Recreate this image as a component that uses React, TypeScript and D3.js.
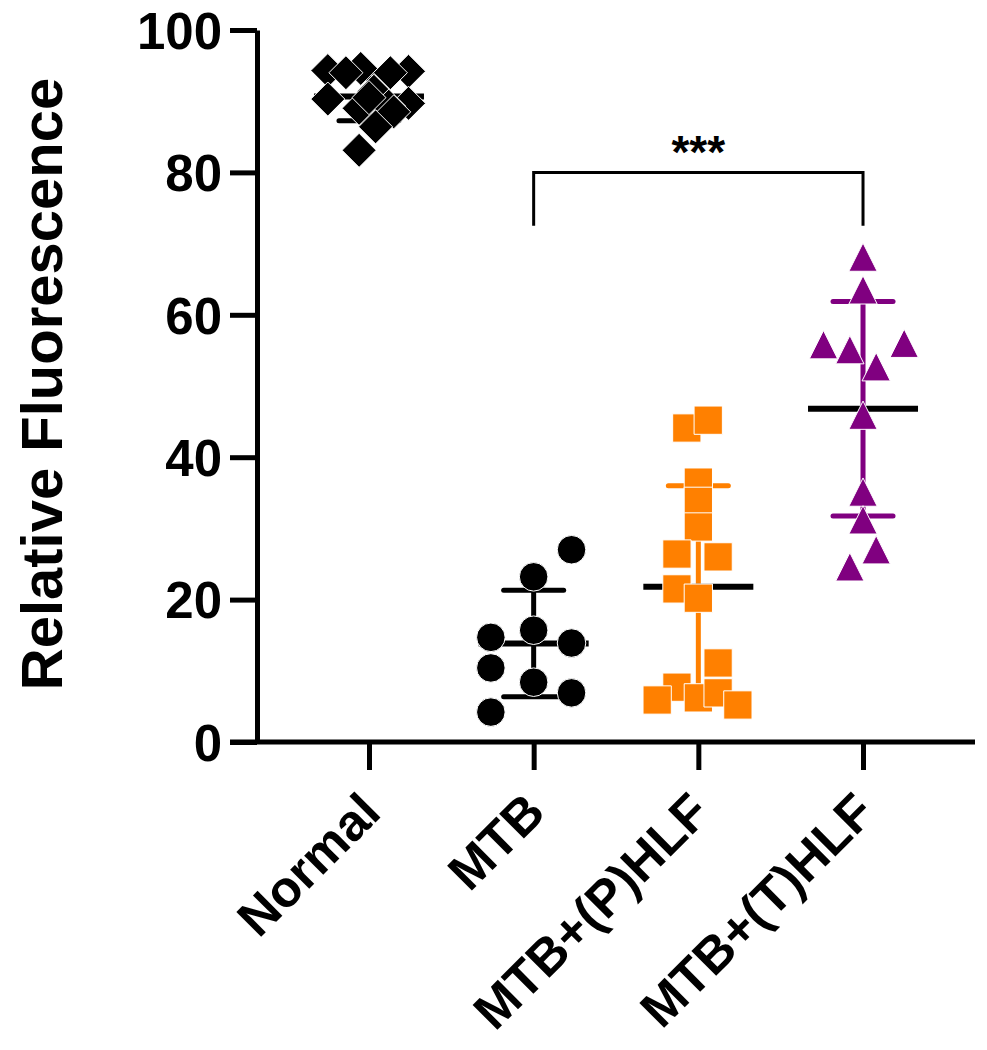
import React, { useEffect, useRef } from "react";
import * as d3 from "d3";

const categories = ["Normal", "MTB", "MTB+(P)HLF", "MTB+(T)HLF"];
const yTicks = [0, 20, 40, 60, 80, 100];

const normalValues = [94.3, 94.6, 94.2, 94.0, 94.0, 90.3, 91.4, 89.7, 89.0, 89.3, 90.5, 88.5, 86.4, 83.1];
const normalLanes = [-0.25, -0.05, 0.24, -0.14, 0.13, -0.25, 0.03, 0.24, -0.06, 0.12, 0.0, 0.15, 0.04, -0.06];

const mtbValues = [27.0, 23.2, 14.7, 15.7, 13.9, 10.4, 8.4, 6.9, 4.2];
const mtbLanes = [0.23, 0, -0.26, 0, 0.23, -0.26, 0, 0.23, -0.26];

const pValues = [44.1, 45.2, 36.5, 33.8, 30.2, 26.4, 26.0, 21.5, 20.2, 11.1, 7.7, 5.9, 6.2, 6.9, 5.2];
const pLanes = [-0.07, 0.06, 0, 0, 0, -0.13, 0.12, -0.13, 0, 0.12, -0.13, -0.25, 0, 0.12, 0.24];

const tValues = [68.1, 63.5, 55.8, 55.1, 56.0, 52.7, 45.9, 35.1, 31.2, 27.0, 24.6];
const tLanes = [0, 0, -0.24, -0.08, 0.25, 0.08, 0, 0, 0, 0.08, -0.08];

const groupColors = ["#000000", "#000000", "#FF8000", "#800080"];
const significance = { from: "MTB", to: "MTB+(T)HLF", level: 80, drop: 7.5, label: "***" };

const W = 987;
const H = 1050;
const FONT = "'Liberation Sans', Arial, sans-serif";

export default function App() {
  const ref = useRef<SVGSVGElement>(null);

  useEffect(() => {
    const svg = d3.select(ref.current);
    svg.selectAll("*").remove();

    const x = d3.scalePoint<string>().domain(categories).range([257, 975]).padding(0.68);
    const y = d3.scaleLinear().domain([0, 100]).range([742, 30]);
    const step = x.step();

    const groups = [
      { values: normalValues, lanes: normalLanes },
      { values: mtbValues, lanes: mtbLanes },
      { values: pValues, lanes: pLanes },
      { values: tValues, lanes: tLanes },
    ];

    const diamond = {
      draw(ctx: any, size: number) {
        const r = Math.sqrt(size) / 2 * Math.SQRT2;
        ctx.moveTo(0, -r);
        ctx.lineTo(r, 0);
        ctx.lineTo(0, r);
        ctx.lineTo(-r, 0);
        ctx.closePath();
      },
    };
    const tri = {
      draw(ctx: any, size: number) {
        const s = Math.sqrt(size);
        ctx.moveTo(0, -s / 2);
        ctx.lineTo(s / 2, s / 2);
        ctx.lineTo(-s / 2, s / 2);
        ctx.closePath();
      },
    };
    const symbols = [
      d3.symbol().type(diamond as any).size(580),
      d3.symbol().type(d3.symbolCircle).size(640),
      d3.symbol().type(d3.symbolSquare).size(800),
      d3.symbol().type(tri as any).size(800),
    ];

    // Axes
    const yAxis = svg.append("g").attr("transform", `translate(257,0)`)
      .call(d3.axisLeft(y).tickValues(yTicks).tickSize(27).tickSizeOuter(0).tickPadding(8));
    yAxis.select(".domain").attr("stroke", "#000").attr("stroke-width", 5);
    yAxis.selectAll(".tick line").attr("stroke", "#000").attr("stroke-width", 5);
    yAxis.selectAll(".tick text")
      .attr("font-family", FONT).attr("font-weight", "bold").attr("font-size", 51)
      .attr("fill", "#000").attr("dy", "0.36em");

    const xAxis = svg.append("g").attr("transform", `translate(0,742)`)
      .call(d3.axisBottom(x).tickSize(28).tickSizeOuter(0).tickFormat(() => ""));
    xAxis.select(".domain").attr("stroke", "#000").attr("stroke-width", 5)
      .attr("d", `M230,0H975`);
    xAxis.selectAll(".tick line").attr("stroke", "#000").attr("stroke-width", 5);

    // x labels rotated
    svg.append("g").selectAll("text").data(categories).join("text")
      .attr("transform", (d) => `translate(${(x(d) as number) + 14},815) rotate(-45)`)
      .attr("text-anchor", "end")
      .attr("font-family", FONT).attr("font-weight", "bold").attr("font-size", 51)
      .attr("fill", "#000")
      .text((d) => d);

    // y title
    svg.append("text")
      .attr("transform", `translate(62,384) rotate(-90)`)
      .attr("text-anchor", "middle")
      .attr("font-family", FONT).attr("font-weight", "bold").attr("font-size", 58)
      .attr("fill", "#000")
      .text("Relative Fluorescence");

    // error bars, means, points
    groups.forEach((g, i) => {
      const cx = x(categories[i]) as number;
      const m = d3.mean(g.values) as number;
      const sd = d3.deviation(g.values) as number;
      const col = groupColors[i];
      const eg = svg.append("g");
      eg.append("line").attr("x1", cx).attr("x2", cx).attr("y1", y(m - sd)).attr("y2", y(m + sd))
        .attr("stroke", col).attr("stroke-width", 5);
      [m - sd, m + sd].forEach((v) => {
        eg.append("line").attr("x1", cx - 30).attr("x2", cx + 30).attr("y1", y(v)).attr("y2", y(v))
          .attr("stroke", col).attr("stroke-width", 5).attr("stroke-linecap", "round");
      });
      eg.append("line").attr("x1", cx - 55).attr("x2", cx + 55).attr("y1", y(m)).attr("y2", y(m))
        .attr("stroke", "#000").attr("stroke-width", 6);

      svg.append("g").selectAll("path").data(g.values).join("path")
        .attr("d", symbols[i]() as string)
        .attr("transform", (v, j) => `translate(${cx + g.lanes[j] * step},${y(v)})`)
        .attr("fill", col)
        .attr("stroke", "#fff").attr("stroke-width", 1);
    });

    // significance bracket
    const x1 = x(significance.from) as number;
    const x2 = x(significance.to) as number;
    const yl = y(significance.level);
    const yb = y(significance.level - significance.drop);
    svg.append("path")
      .attr("d", `M${x1},${yb}V${yl}H${x2}V${yb}`)
      .attr("fill", "none").attr("stroke", "#000").attr("stroke-width", 3);
    svg.append("text")
      .attr("x", (x1 + x2) / 2).attr("y", yl - 4)
      .attr("text-anchor", "middle")
      .attr("font-family", FONT).attr("font-weight", "bold").attr("font-size", 46)
      .attr("fill", "#000")
      .text(significance.label);
  }, []);

  return (
    <svg
      ref={ref}
      width={W}
      height={H}
      style={{ position: "absolute", left: 0, top: 0, background: "#fff", display: "block" }}
    />
  );
}
